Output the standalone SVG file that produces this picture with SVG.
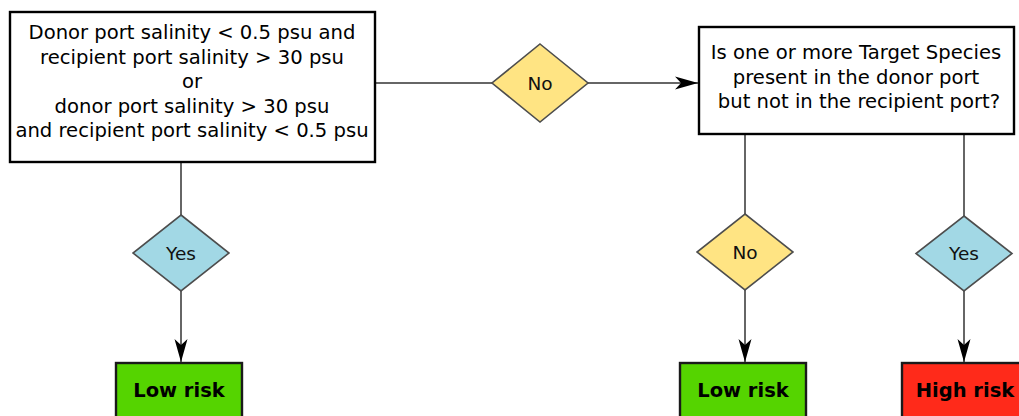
<svg xmlns="http://www.w3.org/2000/svg" width="1019" height="416" viewBox="0 0 1019 416">
<style>
.box{fill:#fff;stroke:#000;stroke-width:2.4}
.t{font-family:"DejaVu Sans",sans-serif;font-size:19.6px;fill:#000;text-anchor:middle}
.dt{font-family:"DejaVu Sans",sans-serif;font-size:18.5px;fill:#111;text-anchor:middle}
.bt{font-family:"DejaVu Sans",sans-serif;font-size:19.5px;font-weight:bold;fill:#000;text-anchor:middle}
.yes{fill:#a2d8e5;stroke:#4d4d4d;stroke-width:1.6}
.no{fill:#ffe483;stroke:#4d4d4d;stroke-width:1.6}
.low{fill:#55d400;stroke:#1a1a1a;stroke-width:2.4}
.high{fill:#ff2a1a;stroke:#1a1a1a;stroke-width:2.4}
.c{fill:none;stroke:#333;stroke-width:1.5}
</style>
<defs>
<marker id="arr" markerUnits="userSpaceOnUse" markerWidth="26" markerHeight="16" viewBox="-24 -8 26 16" refX="0" refY="0" orient="auto">
<path d="M0,0 L-23,-6.5 L-17,0 L-23,6.5 Z" fill="#000"/>
</marker>
</defs>
<g id="connectors">
<line class="c" x1="181" y1="162" x2="181" y2="215"/>
<line class="c" x1="181" y1="291" x2="181" y2="362" marker-end="url(#arr)"/>
<line class="c" x1="375" y1="83" x2="492" y2="83"/>
<line class="c" x1="588" y1="83" x2="698" y2="83" marker-end="url(#arr)"/>
<line class="c" x1="745" y1="134" x2="745" y2="214"/>
<line class="c" x1="745" y1="290" x2="745" y2="362" marker-end="url(#arr)"/>
<line class="c" x1="964" y1="134" x2="964" y2="216"/>
<line class="c" x1="964" y1="291" x2="964" y2="362" marker-end="url(#arr)"/>
</g>
<g id="q1">
<rect class="box" x="10" y="12" width="365" height="150"/>
<text class="t" x="192" y="39">Donor port salinity &lt; 0.5 psu and</text>
<text class="t" x="192" y="64">recipient port salinity &gt; 30 psu</text>
<text class="t" x="192" y="88">or</text>
<text class="t" x="192" y="113">donor port salinity &gt; 30 psu</text>
<text class="t" x="192" y="137">and recipient port salinity &lt; 0.5 psu</text>
</g>
<g id="d-no1">
<polygon class="no" points="540,44 588,83 540,122 492,83"/>
<text class="dt" x="540" y="90">No</text>
</g>
<g id="q2">
<rect class="box" x="699" y="27" width="315" height="107"/>
<text class="t" x="856" y="59">Is one or more Target Species</text>
<text class="t" x="856" y="84">present in the donor port</text>
<text class="t" x="859" y="108">but not in the recipient port?</text>
</g>
<g id="d-yes1">
<polygon class="yes" points="181,215 229,253 181,291 133,253"/>
<text class="dt" x="181" y="260">Yes</text>
</g>
<g id="d-no2">
<polygon class="no" points="745,214 793,252 745,290 697,252"/>
<text class="dt" x="745" y="259">No</text>
</g>
<g id="d-yes2">
<polygon class="yes" points="964,216 1012,253.5 964,291 916,253.5"/>
<text class="dt" x="964" y="260">Yes</text>
</g>
<g id="low1">
<rect class="low" x="116" y="363" width="126" height="56"/>
<text class="bt" x="179" y="397">Low risk</text>
</g>
<g id="low2">
<rect class="low" x="680" y="363" width="126" height="56"/>
<text class="bt" x="743" y="397">Low risk</text>
</g>
<g id="high">
<rect class="high" x="902" y="363" width="126" height="56"/>
<text class="bt" x="965" y="397">High risk</text>
</g>
</svg>
